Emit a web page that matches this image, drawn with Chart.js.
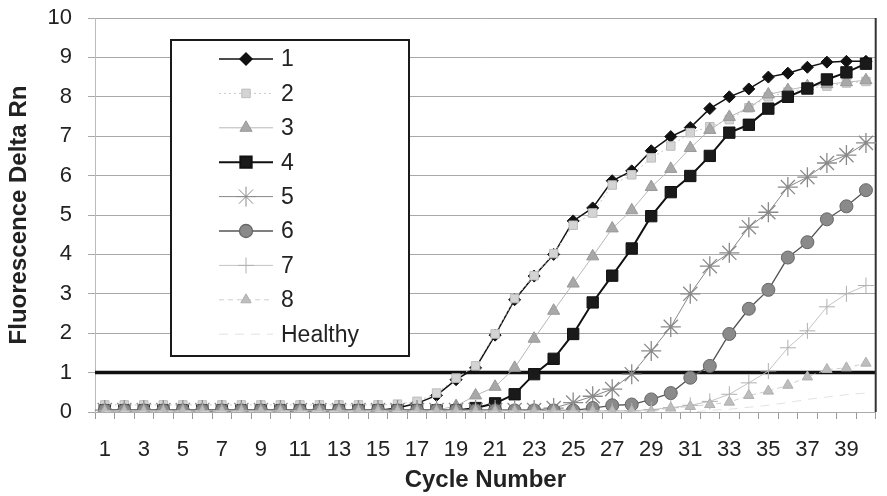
<!DOCTYPE html>
<html>
<head>
<meta charset="utf-8">
<script src="https://cdn.jsdelivr.net/npm/chart.js@4.4.1/dist/chart.umd.min.js"></script>
<style>
  html, body { margin: 0; padding: 0; background: #fff; }
</style>
</head>
<body>
<canvas id="pcr"></canvas>
<script>
// cycle numbers on the x axis
const cycles = ['1','2','3','4','5','6','7','8','9','10','11','12','13','14','15','16','17','18','19','20',
  '21','22','23','24','25','26','27','28','29','30','31','32','33','34','35','36','37','38','39','40'];

// fluorescence (delta Rn) per cycle
const sample1 = [0.04,0.04,0.04,0.04,0.04,0.04,0.04,0.04,0.04,0.04,0.04,0.04,0.04,0.04,0.04,
  0.1,0.22,0.42,0.82,1.12,1.95,2.85,3.45,4.0,4.85,5.18,5.87,6.12,6.63,6.99,7.22,7.7,8.0,8.2,8.5,8.6,8.75,8.88,8.9,8.9];
const sample2 = [0.18,0.18,0.18,0.18,0.18,0.18,0.18,0.18,0.18,0.18,0.18,0.18,0.18,0.18,0.18,
  0.2,0.27,0.48,0.86,1.17,1.98,2.88,3.46,4.02,4.74,5.05,5.76,6.02,6.45,6.75,7.09,7.24,7.42,7.72,8.0,8.12,8.22,8.27,8.35,8.39];
const sample3 = [0.05,0.05,0.05,0.05,0.05,0.05,0.05,0.05,0.05,0.05,0.05,0.05,0.05,0.05,0.05,0.05,0.05,0.05,
  0.15,0.42,0.64,1.12,1.86,2.57,3.26,3.95,4.66,5.12,5.71,6.17,6.7,7.16,7.49,7.72,8.06,8.17,8.27,8.32,8.37,8.42];
const sample4 = [0.04,0.04,0.04,0.04,0.04,0.04,0.04,0.04,0.04,0.04,0.04,0.04,0.04,0.04,0.04,0.04,0.04,0.04,0.04,
  0.1,0.22,0.45,0.96,1.35,1.98,2.78,3.46,4.15,4.97,5.58,5.99,6.5,7.09,7.29,7.7,8.0,8.21,8.44,8.62,8.84];
const sample5 = [0.05,0.05,0.05,0.05,0.05,0.05,0.05,0.05,0.05,0.05,0.05,0.05,0.05,0.05,0.05,0.05,0.05,0.05,0.05,0.05,0.05,0.05,0.05,
  0.1,0.24,0.4,0.58,0.96,1.55,2.16,3.0,3.7,4.04,4.69,5.07,5.71,5.96,6.32,6.52,6.83];
const sample6 = [0.04,0.04,0.04,0.04,0.04,0.04,0.04,0.04,0.04,0.04,0.04,0.04,0.04,0.04,0.04,0.04,0.04,0.04,0.04,0.04,0.04,0.04,0.04,0.04,0.04,
  0.1,0.17,0.19,0.32,0.48,0.87,1.17,1.98,2.62,3.1,3.92,4.31,4.89,5.22,5.63];
const sample7 = [0.03,0.03,0.03,0.03,0.03,0.03,0.03,0.03,0.03,0.03,0.03,0.03,0.03,0.03,0.03,0.03,0.03,0.03,0.03,0.03,
  0.03,0.03,0.03,0.03,0.03,0.03,0.03,0.03,
  0.06,0.11,0.17,0.27,0.45,0.74,1.04,1.63,2.06,2.67,3.0,3.21];
const sample8 = [0.02,0.02,0.02,0.02,0.02,0.02,0.02,0.02,0.02,0.02,0.02,0.02,0.02,0.02,0.02,0.02,0.02,0.02,0.02,0.02,
  0.02,0.02,0.02,0.02,0.02,0.02,0.02,0.02,0.02,
  0.1,0.14,0.19,0.25,0.42,0.53,0.68,0.89,1.08,1.12,1.24];
const healthy = [0,0,0,0,0,0,0,0,0,0,0,0,0,0,0,0,0,0,0,0,0,0,0,0,0,0,0,0,0,0,0,
  0.04,0.07,0.12,0.17,0.24,0.32,0.38,0.44,0.48];

const yTicks = [0,1,2,3,4,5,6,7,8,9,10];
const threshold = 1;

const FONT = '"Liberation Sans", Arial, sans-serif';

function series(label, data, line, point) {
  return Object.assign({
    label: label,
    data: data,
    fill: false,
    tension: 0,
    borderWidth: 1,
    pointBorderWidth: 1,
    pointHoverRadius: 0
  }, line, point);
}

const datasets = [
  series('1', sample1, { borderColor: '#111', borderWidth: 1.5 },
    { pointStyle: 'rectRot', pointRadius: 6, pointBackgroundColor: '#111', pointBorderColor: '#111' }),
  series('2', sample2, { borderColor: '#c8c8c8', borderDash: [2, 3] },
    { pointStyle: 'rect', pointRadius: 6, pointBackgroundColor: '#d4d4d4', pointBorderColor: '#bdbdbd' }),
  series('3', sample3, { borderColor: '#b8b8b8' },
    { pointStyle: 'triangle', pointRadius: 7, pointBackgroundColor: '#a8a8a8', pointBorderColor: '#999' }),
  series('4', sample4, { borderColor: '#111', borderWidth: 2 },
    { pointStyle: 'rect', pointRadius: 8, pointBackgroundColor: '#1a1a1a', pointBorderColor: '#111' }),
  series('5', sample5, { borderColor: '#888' },
    { pointStyle: 'star', pointRadius: 10, pointBackgroundColor: '#888', pointBorderColor: '#8a8a8a', pointBorderWidth: 1.3 }),
  series('6', sample6, { borderColor: '#555', borderWidth: 1.3 },
    { pointStyle: 'circle', pointRadius: 6.5, pointBackgroundColor: '#8a8a8a', pointBorderColor: '#666' }),
  series('7', sample7, { borderColor: '#c4c4c4' },
    { pointStyle: 'cross', pointRadius: 8, pointBackgroundColor: '#bbb', pointBorderColor: '#b0b0b0' }),
  series('8', sample8, { borderColor: '#d0d0d0', borderDash: [5, 4] },
    { pointStyle: 'triangle', pointRadius: 6, pointBackgroundColor: '#bdbdbd', pointBorderColor: '#b0b0b0' }),
  series('Healthy', healthy, { borderColor: '#e2e2e2', borderDash: [9, 7] },
    { pointStyle: 'circle', pointRadius: 0, pointBackgroundColor: '#fff', pointBorderColor: '#fff' })
];
// later series sit on top, like the original
datasets.forEach((d, i) => { d.order = datasets.length - i; });

// heavy threshold line at delta Rn = 1, plus the dark right frame edge
const thresholdLine = {
  id: 'thresholdLine',
  beforeDatasetsDraw(chart) {
    const { ctx, chartArea } = chart;
    const y = chart.scales.y.getPixelForValue(threshold);
    ctx.save();
    ctx.strokeStyle = '#111';
    ctx.lineWidth = 3.5;
    ctx.beginPath();
    ctx.moveTo(chartArea.left, y);
    ctx.lineTo(chartArea.right, y);
    ctx.stroke();
    ctx.lineWidth = 2;
    ctx.strokeStyle = '#333';
    ctx.beginPath();
    ctx.moveTo(chartArea.right, chartArea.top);
    ctx.lineTo(chartArea.right, chartArea.bottom);
    ctx.stroke();
    ctx.restore();
  }
};

// boxed legend inside the plot, with line + marker samples
const legendBox = {
  id: 'legendBox',
  afterDatasetsDraw(chart) {
    const { ctx, chartArea } = chart;
    const x0 = chartArea.left + 76, y0 = chartArea.top + 22;
    const w = 238, h = 316;
    ctx.save();
    ctx.fillStyle = '#fff';
    ctx.fillRect(x0, y0, w, h);
    ctx.lineWidth = 2;
    ctx.strokeStyle = '#1a1a1a';
    ctx.strokeRect(x0, y0, w, h);
    chart.data.datasets.forEach((ds, i) => {
      const y = y0 + 19 + i * 34.4;
      ctx.setLineDash(ds.borderDash || []);
      ctx.strokeStyle = ds.borderColor;
      ctx.lineWidth = ds.borderWidth;
      ctx.beginPath();
      ctx.moveTo(x0 + 48, y);
      ctx.lineTo(x0 + 102, y);
      ctx.stroke();
      ctx.setLineDash([]);
      if (ds.pointRadius > 0) {
        ctx.fillStyle = ds.pointBackgroundColor;
        ctx.strokeStyle = ds.pointBorderColor;
        Chart.helpers.drawPoint(ctx, {
          pointStyle: ds.pointStyle,
          radius: ds.pointRadius,
          rotation: 0,
          borderWidth: ds.pointBorderWidth
        }, x0 + 75, y);
      }
      ctx.fillStyle = '#222';
      ctx.font = '23px ' + FONT;
      ctx.textBaseline = 'middle';
      ctx.textAlign = 'left';
      ctx.fillText(ds.label, x0 + 110, y + 1);
    });
    ctx.restore();
  }
};

const canvas = document.getElementById('pcr');
canvas.width = 887;
canvas.height = 496;

new Chart(canvas.getContext('2d'), {
  type: 'line',
  data: { labels: cycles, datasets: datasets },
  plugins: [thresholdLine, legendBox],
  options: {
    responsive: false,
    animation: false,
    events: [],
    layout: { padding: { left: 2, right: 2, top: 18, bottom: 1 } },
    plugins: {
      legend: { display: false },
      tooltip: { enabled: false }
    },
    scales: {
      x: {
        offset: true,
        afterFit: (scale) => { scale.height = 83; },
        grid: {
          offset: true,
          drawOnChartArea: false,
          drawTicks: true,
          tickLength: 7,
          color: '#999'
        },
        border: { color: '#aaa' },
        ticks: {
          autoSkip: false,
          maxRotation: 0,
          padding: 18,
          color: '#222',
          font: { family: FONT, size: 22 },
          callback: (v, i) => (i % 2 === 0 ? cycles[i] : '')
        },
        title: {
          display: true,
          text: 'Cycle Number',
          color: '#222',
          font: { family: FONT, size: 24, weight: 'bold' },
          padding: { top: 2, bottom: 0 }
        }
      },
      y: {
        min: yTicks[0],
        max: yTicks[yTicks.length - 1],
        afterBuildTicks: (scale) => { scale.ticks = yTicks.map(v => ({ value: v })); },
        afterFit: (scale) => {
          scale.width = 93;
          scale.paddingTop = 0;
          scale.paddingBottom = 0;
        },
        grid: {
          color: '#a8a8a8',
          lineWidth: 1,
          tickLength: 7
        },
        border: { color: '#bbb' },
        ticks: {
          padding: 16,
          color: '#222',
          font: { family: FONT, size: 22 }
        },
        title: {
          display: true,
          text: 'Fluorescence Delta Rn',
          color: '#222',
          font: { family: FONT, size: 24, weight: 'bold' },
          padding: { top: 3, bottom: 0 }
        }
      }
    }
  }
});
</script>
</body>
</html>
